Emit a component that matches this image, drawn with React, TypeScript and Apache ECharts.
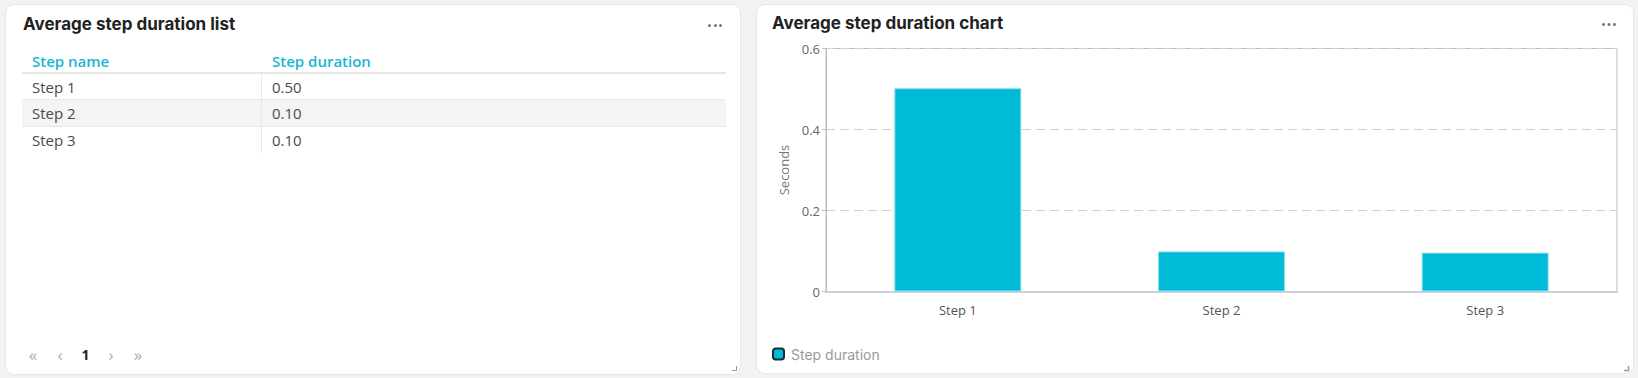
import React, { useEffect, useRef } from "react";
import * as echarts from "echarts";

// ---- data ----
const stepNames: string[] = ["Step 1", "Step 2", "Step 3"];
const stepDurations: number[] = [0.502, 0.099, 0.096];
const tableColumns: string[] = ["Step name", "Step duration"];
const seriesName = "Step duration";
const yAxisName = "Seconds";
const listTitle = "Average step duration list";
const chartTitle = "Average step duration chart";
const pagerItems: string[] = ["«", "‹", "1", "›", "»"];

const CYAN = "#00bbd7";
const HEAD = "#19b5d6";
const FONT = '"Open Sans", sans-serif';
const TITLE_FONT = 'Inter, "Noto Sans", sans-serif';

function Dots({ left, top }: { left: number; top: number }) {
  return (
    <div style={{ position: "absolute", left, top }}>
      {[0, 1, 2].map((i) => (
        <div
          key={i}
          style={{
            position: "absolute",
            left: i * 5.5,
            top: 0,
            width: 3,
            height: 3,
            borderRadius: 2,
            background: "#777",
          }}
        />
      ))}
    </div>
  );
}

function Handle({ left, top }: { left: number; top: number }) {
  return (
    <div
      style={{
        position: "absolute",
        left,
        top,
        width: 4,
        height: 4,
        borderRight: "1.5px solid #9a9a9a",
        borderBottom: "1.5px solid #9a9a9a",
      }}
    />
  );
}

export default function App() {
  const ref = useRef<HTMLDivElement>(null);

  useEffect(() => {
    document.body.style.margin = "0";
    const chart = echarts.init(ref.current!, null, { renderer: "svg" });
    chart.setOption({
      animation: false,
      title: {
        text: chartTitle,
        left: 15,
        top: 9,
        padding: 0,
        textStyle: { fontFamily: TITLE_FONT, fontSize: 17, fontWeight: 700, color: "#222" },
      },
      grid: {
        left: 69,
        right: 16,
        top: 43.5,
        bottom: 81.5,
        show: true,
        borderColor: "#bdbdbd",
        borderWidth: 1,
        containLabel: false,
        outerBoundsMode: "none",
      },
      legend: {
        left: 15,
        top: 342,
        padding: 0,
        icon: "roundRect",
        itemWidth: 11,
        itemHeight: 11,
        itemStyle: { borderColor: "#1c2c33", borderWidth: 2 },
        textStyle: { fontFamily: TITLE_FONT, fontSize: 14, color: "#9a9a9a", padding: [0, 0, 0, 2] },
        data: [seriesName],
      },
      xAxis: {
        type: "category",
        data: stepNames,
        axisLine: { lineStyle: { color: "#cdd0dc", width: 2 } },
        axisTick: { show: false },
        axisLabel: { margin: 12, fontSize: 13, color: "#555", fontFamily: FONT },
        splitLine: { show: false },
      },
      yAxis: {
        type: "value",
        min: 0,
        max: 0.6,
        interval: 0.2,
        name: yAxisName,
        nameLocation: "middle",
        nameGap: 29,
        nameTextStyle: { fontSize: 13, color: "#777", fontFamily: FONT },
        axisLine: { show: true, lineStyle: { color: "#bdbdbd" } },
        axisTick: { show: true, length: 4, lineStyle: { color: "#bdbdbd" } },
        axisLabel: { margin: 6, fontSize: 13, color: "#666", fontFamily: FONT },
        splitLine: { show: true, lineStyle: { type: [9, 5], color: "#d0d0d0" } },
      },
      series: [
        {
          type: "bar",
          name: seriesName,
          data: stepDurations,
          barWidth: 127,
          itemStyle: { color: CYAN, borderColor: "#8fe0ee", borderWidth: 1 },
        },
      ],
      graphic: [
        ...[0, 1, 2].map((i) => ({
          type: "circle",
          shape: { cx: 846.5 + i * 5.5, cy: 19.5, r: 1.5 },
          style: { fill: "#777" },
        })),
        {
          type: "polyline",
          shape: { points: [[871.5, 361], [871.5, 365.5], [867, 365.5]] },
          style: { stroke: "#9a9a9a", lineWidth: 1.5, fill: null },
        },
      ],
    });
    return () => chart.dispose();
  }, []);

  const rowTop = 69;
  const rowH = 26.3;

  return (
    <div
      style={{
        position: "fixed",
        left: 0,
        top: 0,
        width: 1638,
        height: 378,
        background: "#f2f2f2",
        overflow: "hidden",
        fontFamily: FONT,
      }}
    >
      {/* left card */}
      <div
        style={{
          position: "absolute",
          left: 6,
          top: 5,
          width: 734,
          height: 369,
          background: "#fff",
          borderRadius: 8,
          boxShadow: "0 0 0 1px #e6e6e6",
        }}
      >
        <div
          style={{
            position: "absolute",
            left: 17,
            top: 9,
            lineHeight: "20px",
            fontFamily: TITLE_FONT,
            fontSize: 17,
            fontWeight: 700,
            color: "#222",
            whiteSpace: "nowrap",
          }}
        >
          {listTitle}
        </div>
        <Dots left={702} top={18.5} />

        {/* header */}
        {tableColumns.map((c, i) => (
          <div
            key={c}
            style={{
              position: "absolute",
              left: i === 0 ? 26 : 266,
              top: 46,
              lineHeight: "20px",
              fontSize: 15,
              fontWeight: 600,
              color: HEAD,
              whiteSpace: "nowrap",
            }}
          >
            {c}
          </div>
        ))}
        <div style={{ position: "absolute", left: 16, top: 67, width: 704, height: 2, background: "#e6e6e6" }} />

        {/* rows */}
        {stepNames.map((name, i) => (
          <div
            key={name}
            style={{
              position: "absolute",
              left: 16,
              top: rowTop + i * rowH,
              width: 704,
              height: rowH,
              background: i % 2 === 1 ? "#f4f4f4" : "#fff",
              borderBottom: i < stepNames.length - 1 ? "1px solid #e9e9e9" : "none",
              boxSizing: "border-box",
              fontSize: 15,
              color: "#4a4a4a",
              lineHeight: rowH + 1 + "px",
            }}
          >
            <span style={{ position: "absolute", left: 10 }}>{name}</span>
            <span style={{ position: "absolute", left: 250 }}>{stepDurations[i].toFixed(2)}</span>
          </div>
        ))}
        <div
          style={{
            position: "absolute",
            left: 255,
            top: rowTop,
            width: 1,
            height: rowH * stepNames.length,
            background: "#e9e9e9",
          }}
        />

        {/* pager */}
        {pagerItems.map((p, i) => (
          <div
            key={i}
            style={{
              position: "absolute",
              left: [27, 54, 79.4, 105, 132][i],
              top: 350,
              transform: "translate(-50%, -50%)",
              fontSize: p === "1" ? 14 : 17,
              fontWeight: p === "1" ? 700 : 400,
              color: p === "1" ? "#222" : "#aaa",
              lineHeight: "18px",
            }}
          >
            {p}
          </div>
        ))}
        <Handle left={726} top={361} />
      </div>

      {/* right card */}
      <div
        style={{
          position: "absolute",
          left: 757,
          top: 5,
          width: 876,
          height: 368,
          background: "#fff",
          borderRadius: 8,
          boxShadow: "0 0 0 1px #e6e6e6",
        }}
      >
        <div ref={ref} style={{ width: 876, height: 368 }} />
      </div>
    </div>
  );
}
